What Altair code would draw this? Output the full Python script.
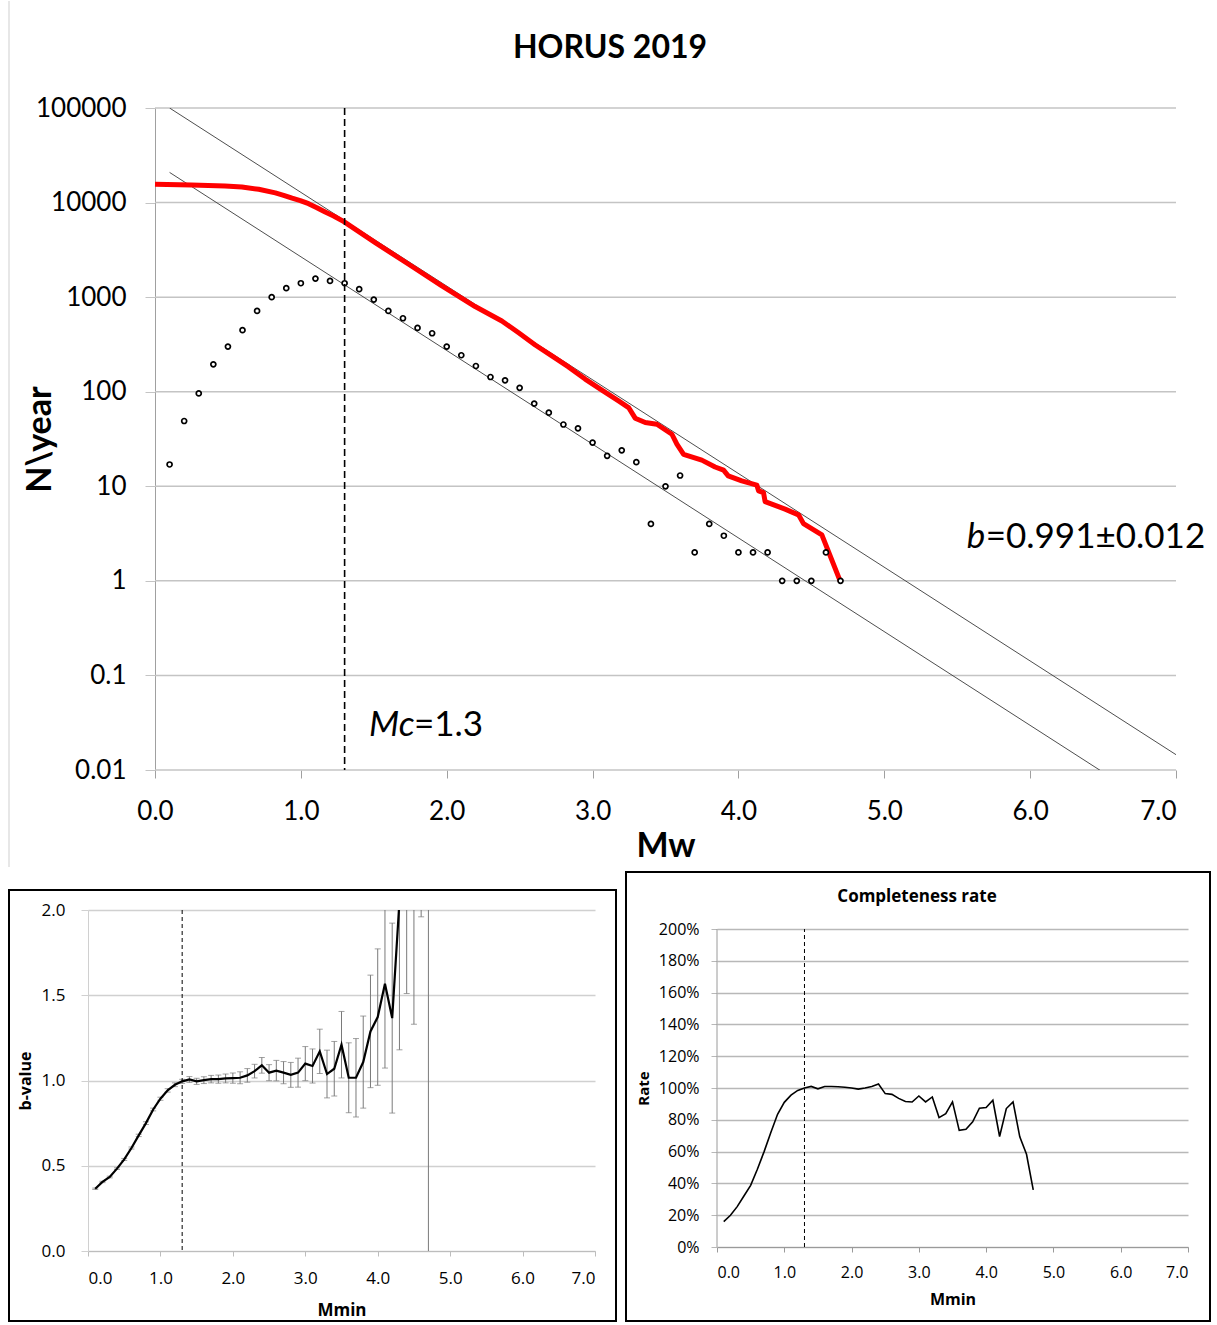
import altair as alt
import pandas as pd

FONT_MAIN = "Lato"
FONT_SUB = "Open Sans"

# ---------------- data ----------------
# magnitude bins (0.1 .. 4.7)
mag = [round(i / 10, 1) for i in range(1, 48)]

# incremental number of events per year (open circles)
n_inc = [17, 49, 96, 195, 300, 447, 715, 1000, 1243, 1403,
         1570, 1484, 1403, 1213, 942, 715, 598, 473, 415, 300,
         243, 187, 143, 132, 110, 75, 60, 45, 41, 29,
         21, 24, 18, 4, 10, 13, 2, 4, 3, 2,
         2, 2, 1, 1, 1, 2, 1]

# cumulative curve (red)
red_M = [0.0, 0.25, 0.48, 0.596, 0.711, 0.825, 0.882, 0.94, 0.996, 1.053,
         1.11, 1.167, 1.225, 1.295, 1.51,
         1.739, 1.967, 2.195, 2.378, 2.493, 2.607, 2.721, 2.835, 2.949, 3.064,
         3.178, 3.247, 3.292, 3.361, 3.441, 3.544, 3.578, 3.624, 3.749, 3.84,
         3.898, 3.93, 4.023, 4.126, 4.138, 4.172, 4.183, 4.32, 4.412, 4.446,
         4.572, 4.697]
red_N = [15600, 15350, 14970, 14620, 13810, 12650, 11940, 11150, 10500, 9730,
         8830, 7950, 7210, 6280, 3770,
         2228, 1313, 795, 560, 420, 312, 239, 183, 136, 104,
         80, 68, 52.5, 47.2, 45.3, 35.5, 27.9, 21.8, 18.9, 16.0,
         14.8, 12.9, 11.4, 10.3, 8.94, 8.58, 6.89, 5.73, 4.99, 4.03,
         3.06, 1.0]

# Gutenberg-Richter fits
B_VALUE = 0.991
A_UPPER = 5.099
A_LOWER = 4.418
fit_lines = [("upper", A_UPPER, 0.1, 7.0), ("lower", A_LOWER, 0.1, 6.48)]
MC = 1.3
decades = [0.01, 0.1, 1, 10, 100, 1000, 10000, 100000]

# b-value vs Mmin
b_vals = [0.365, 0.405, 0.434, 0.483, 0.537, 0.604, 0.678, 0.75, 0.83, 0.893,
          0.942, 0.975, 0.995, 1.006, 0.995, 1.002, 1.008, 1.008, 1.012, 1.014,
          1.016, 1.03, 1.055, 1.089, 1.046, 1.058, 1.046, 1.033, 1.046, 1.099,
          1.085, 1.171, 1.038, 1.069, 1.21, 1.016, 1.016, 1.108, 1.288, 1.372,
          1.568, 1.366, 2.05, 2.6, 3.0, 4.0, 5.0]
b_err = [0.004, 0.004, 0.005, 0.005, 0.006, 0.006, 0.007, 0.008, 0.008, 0.009,
         0.01, 0.011, 0.012, 0.017, 0.018, 0.02, 0.022, 0.024, 0.026, 0.03,
         0.035, 0.04, 0.04, 0.046, 0.047, 0.06, 0.065, 0.073, 0.085, 0.1,
         0.1, 0.13, 0.14, 0.16, 0.195, 0.205, 0.23, 0.27, 0.33, 0.4,
         0.495, 0.557, 0.87, 1.09, 1.67, 2.04, 6.0]

# completeness rate vs Mmin
rate = [0.16, 0.2, 0.254, 0.321, 0.388, 0.489, 0.60, 0.72, 0.835, 0.91,
        0.955, 0.985, 1.0, 1.01, 0.995, 1.01, 1.01, 1.008, 1.005, 1.0,
        0.993, 1.0, 1.01, 1.025, 0.965, 0.96, 0.935, 0.915, 0.912, 0.95,
        0.913, 0.944, 0.814, 0.839, 0.913, 0.734, 0.74, 0.787, 0.873, 0.877,
        0.923, 0.695, 0.871, 0.913, 0.693, 0.583, 0.359]
rate_ticks = [round(i * 0.2, 1) for i in range(11)]

# ---------------- tables ----------------
pts_df = pd.DataFrame({"M": mag, "N": n_inc})
red_df = pd.DataFrame({"M": red_M, "N": red_N})
fit_rows = []
for name, a, m0, m1 in fit_lines:
    for m in (m0, m1):
        fit_rows.append({"line": name, "M": m, "N": 10 ** (a - B_VALUE * m)})
fit_df = pd.DataFrame(fit_rows)
grid_df = pd.DataFrame({"N": decades, "M0": 0.0, "M1": 7.0})
mc_df = pd.DataFrame({"M": [MC], "lo": [0.0], "hi": [2.0]})
bdf = pd.DataFrame({"M": mag, "b": b_vals, "err": b_err})
bdf["lo"] = bdf["b"] - bdf["err"]
bdf["hi"] = bdf["b"] + bdf["err"]
rdf = pd.DataFrame({"M": mag, "rate": rate})
raxis_df = pd.DataFrame({"M": [0.0], "lo": [0.0], "hi": [2.0]})
one = pd.DataFrame({"k": [0]})

# ---------------- main panel ----------------
PXU = 145.86            # pixels per magnitude unit
SHIFT = 67              # main y axis sits this far right of the panel origin
W, H = 1088, 662
xs = alt.Scale(domain=[-SHIFT / PXU, 7], nice=False)
ys = alt.Scale(type="log", domain=[0.01, 100000], nice=False)
x_axis = alt.Axis(values=list(range(8)), format=".1f", title="Mw", grid=False,
                  domain=False, labelFont=FONT_MAIN, labelFontSize=26,
                  labelColor="black", labelPadding=20, tickSize=8,
                  tickColor="#a0a0a0", titleFont=FONT_MAIN, titleFontSize=34,
                  titleFontWeight="bold", titleColor="black", titleY=76,
                  titleX=SHIFT + 1021 / 2, titleBaseline="middle")
y_axis = alt.Axis(values=decades, format="~g", title="N\\year", grid=False,
                  offset=-SHIFT, labelFont=FONT_MAIN, labelFontSize=26,
                  labelColor="black", labelPadding=19, tickSize=10,
                  tickColor="#c4c4c4", domainColor="#a0a0a0",
                  titleFont=FONT_MAIN, titleFontSize=34, titleFontWeight="bold",
                  titleColor="black", titleX=-115, titleY=H / 2,
                  titleBaseline="middle", titleAngle=270)
xm = alt.X("M:Q", scale=xs, axis=x_axis)
ym = alt.Y("N:Q", scale=ys, axis=y_axis)

frame_line = alt.Chart(one).mark_rule(color="#cfcfcf", strokeWidth=1).encode(
    x=alt.value(-79), y=alt.value(-107), y2=alt.value(759))

grid = alt.Chart(grid_df).mark_rule(color="#c4c4c4", strokeWidth=1.5).encode(
    x=alt.X("M0:Q", scale=xs, axis=x_axis), x2="M1:Q", y=ym)

fits = alt.Chart(fit_df).mark_line(color="#3a3a3a", strokeWidth=0.9, clip=True).encode(
    x=xm, y=ym, detail="line:N")

red = alt.Chart(red_df).mark_line(color="#ff0000", strokeWidth=5, clip=True,
                                  strokeJoin="round").encode(x=xm, y=ym)

pts = alt.Chart(pts_df).mark_point(shape="circle", filled=True, fill="white",
                                   stroke="black", strokeWidth=1.7, size=25,
                                   opacity=1).encode(x=xm, y=ym)

mc_rule = alt.Chart(mc_df).mark_rule(color="black", strokeWidth=1.6,
                                     strokeDash=[7, 4]).encode(x=xm)

ann_b_it = pd.DataFrame({"M": [5.565], "N": [2.92], "t": ["b"]})
ann_b_rest = pd.DataFrame({"M": [5.565], "N": [2.92], "t": ["=0.991\u00b10.012"]})
ann_mc_it = pd.DataFrame({"M": [1.467], "N": [0.030], "t": ["Mc"]})
ann_mc_rest = pd.DataFrame({"M": [1.467], "N": [0.030], "t": ["=1.3"]})


def txt(df, italic, dx=0):
    kw = dict(font=FONT_MAIN, fontSize=35, align="left", baseline="middle",
              color="black", dx=dx)
    if italic:
        kw["fontStyle"] = "italic"
    return alt.Chart(df).mark_text(**kw).encode(x=xm, y=ym, text="t:N")


main_title = alt.Chart(pd.DataFrame({"t": ["HORUS 2019"]})).mark_text(
    font=FONT_MAIN, fontSize=32, fontWeight="bold", color="black",
    align="center", baseline="middle").encode(
    x=alt.value(522), y=alt.value(-60), text="t:N")

main = alt.layer(
    frame_line, grid, fits, red, pts, mc_rule,
    txt(ann_b_it, True), txt(ann_b_rest, False, 19),
    txt(ann_mc_it, True), txt(ann_mc_rest, False, 45),
    main_title,
).properties(width=W, height=H)

# ---------------- b-value panel ----------------
WL, HL = 507, 341
xs2 = alt.Scale(domain=[0, 7], nice=False)
yb = alt.Scale(domain=[0, 2], nice=False)
xl_axis = alt.Axis(values=list(range(8)), format=".1f", title="Mmin", grid=False,
                   labelFont=FONT_SUB, labelFontSize=17, labelColor="black",
                   labelPadding=14, tickSize=5, tickColor="#bdbdbd",
                   domainColor="#bdbdbd", titleFont=FONT_SUB, titleFontSize=17,
                   titleFontWeight="bold", titleColor="black", titleY=59,
                   titleBaseline="middle")
yl_axis = alt.Axis(values=[0, 0.5, 1, 1.5, 2], format=".1f", title="b-value",
                   grid=True, gridColor="#d0d0d0", gridWidth=1.3,
                   labelFont=FONT_SUB, labelFontSize=17, labelColor="black",
                   labelPadding=16, tickSize=7, tickColor="#d0d0d0",
                   domainColor="#d0d0d0", titleFont=FONT_SUB, titleFontSize=16,
                   titleFontWeight="bold", titleColor="black", titleX=-63,
                   titleY=HL / 2, titleBaseline="middle", titleAngle=270)
xb = alt.X("M:Q", scale=xs2, axis=xl_axis)

box_l = alt.Chart(one).mark_rect(fillOpacity=0, stroke="black", strokeWidth=2).encode(
    x=alt.value(-79), x2=alt.value(528), y=alt.value(-20), y2=alt.value(411))
err_rule = alt.Chart(bdf).mark_rule(color="#7a7a7a", strokeWidth=1, clip=True).encode(
    x=xb, y=alt.Y("lo:Q", scale=yb, axis=yl_axis), y2="hi:Q")
cap_lo = alt.Chart(bdf).mark_tick(color="#7a7a7a", orient="horizontal", size=6,
                                  thickness=1, clip=True).encode(
    x=xb, y=alt.Y("lo:Q", scale=yb, axis=yl_axis))
cap_hi = alt.Chart(bdf).mark_tick(color="#7a7a7a", orient="horizontal", size=6,
                                  thickness=1, clip=True).encode(
    x=xb, y=alt.Y("hi:Q", scale=yb, axis=yl_axis))
b_line = alt.Chart(bdf).mark_line(color="black", strokeWidth=2.2, clip=True).encode(
    x=xb, y=alt.Y("b:Q", scale=yb, axis=yl_axis))
mc_l = alt.Chart(mc_df).mark_rule(color="black", strokeWidth=1,
                                  strokeDash=[4, 3]).encode(x=xb)

left = alt.layer(box_l, err_rule, cap_lo, cap_hi, b_line, mc_l).properties(
    width=WL, height=HL)

# ---------------- completeness panel ----------------
WR, HR = 471, 337
RATE_TOP = 2.12
xr_axis = alt.Axis(values=list(range(8)), format=".1f", title="Mmin", grid=False,
                   labelFont=FONT_SUB, labelFontSize=16, labelColor="black",
                   labelPadding=12, tickSize=5, tickColor="#9a9a9a",
                   domainColor="#9a9a9a", titleFont=FONT_SUB, titleFontSize=16,
                   titleFontWeight="bold", titleColor="black", titleY=52,
                   titleBaseline="middle")
yr_axis = alt.Axis(values=rate_ticks, format=".0%", domain=False,
                   title="Rate", grid=True, gridColor="#b8b8b8", gridWidth=1.3,
                   labelFont=FONT_SUB, labelFontSize=16, labelColor="black",
                   labelPadding=12, tickSize=6, tickColor="#b8b8b8",
                   titleFont=FONT_SUB, titleFontSize=15,
                   titleFontWeight="bold", titleColor="black", titleX=-74,
                   titleY=19 + 318 / 2, titleBaseline="middle", titleAngle=270)
yr = alt.Scale(domain=[0, RATE_TOP], nice=False)
xr = alt.X("M:Q", scale=alt.Scale(domain=[0, 7], nice=False), axis=xr_axis)
yr_enc = alt.Y("rate:Q", scale=yr, axis=yr_axis)

box_r = alt.Chart(one).mark_rect(fillOpacity=0, stroke="black", strokeWidth=2).encode(
    x=alt.value(-91), x2=alt.value(493), y=alt.value(-38), y2=alt.value(411))
r_axisline = alt.Chart(raxis_df).mark_rule(color="#9a9a9a", strokeWidth=1).encode(
    x=xr, y=alt.Y("lo:Q", scale=yr, axis=yr_axis), y2="hi:Q")
r_line = alt.Chart(rdf).mark_line(color="black", strokeWidth=1.6).encode(
    x=xr, y=yr_enc)
mc_r = alt.Chart(mc_df).mark_rule(color="black", strokeWidth=1,
                                  strokeDash=[4, 3]).encode(
    x=xr, y=alt.Y("lo:Q", scale=yr, axis=yr_axis), y2="hi:Q")
r_title = alt.Chart(pd.DataFrame({"t": ["Completeness rate"]})).mark_text(
    font=FONT_SUB, fontSize=17, fontWeight="bold", color="black",
    align="center", baseline="middle").encode(
    x=alt.value(200), y=alt.value(-13), text="t:N")

right = alt.layer(box_r, r_axisline, r_line, mc_r, r_title).properties(
    width=WR, height=HR)

bottom = alt.hconcat(left, right, spacing=8)

chart = alt.vconcat(main, bottom, spacing=3).properties(
    padding={"left": 8, "top": 0, "right": 0, "bottom": 0},
    background="white",
).configure_view(stroke="transparent", strokeWidth=0)

chart.save("out.html", embed_options={"renderer": "svg", "actions": False})
